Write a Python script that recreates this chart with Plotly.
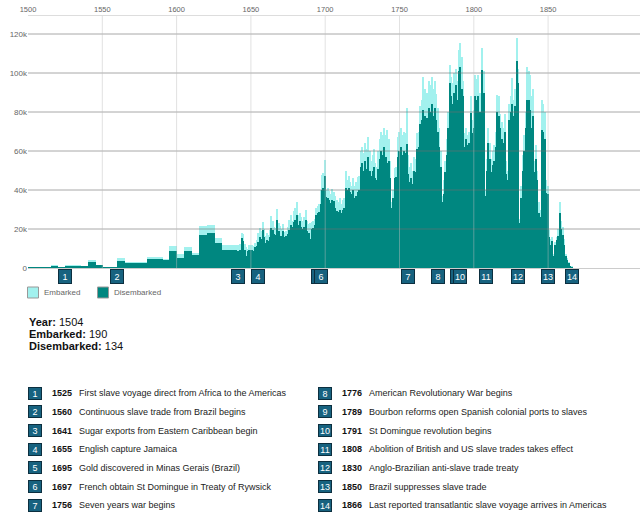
import plotly.graph_objects as go

# yearly estimates, by decade
years = list(range(1501, 1867))

embarked = (
    [190, 190, 190, 190, 190, 310, 310, 310, 310, 310]
    + [390, 390, 390, 390, 390, 1500, 1500, 1500, 1500, 1500]
    + [300, 300, 300, 300, 300, 1650, 1650, 1650, 1650, 1650]
    + [1650, 1650, 1650, 1650, 1650, 800, 800, 800, 800, 800]
    + [3900, 3900, 3900, 3900, 3900, 1700, 1700, 1700, 1700, 1700]
    + [300, 300, 300, 300, 300, 400, 400, 400, 400, 400]
    + [5100, 5100, 5100, 5100, 5100, 3300, 3300, 3300, 3300, 3300]
    + [3300, 3300, 3300, 3300, 3300, 3300, 3300, 3300, 3300, 3300]
    + [5500, 5500, 5500, 5500, 5500, 5500, 5500, 5500, 5500, 5500]
    + [4600, 4600, 4600, 4600, 4600, 11400, 11400, 11400, 11400, 11400]
    + [7200, 7200, 7200, 7200, 7200, 11000, 11000, 11000, 11000, 11000]
    + [7700, 7700, 7700, 7700, 7700, 21300, 21300, 21300, 21300, 21300]
    + [22000, 22000, 22000, 22000, 22000, 15600, 15600, 15600, 15600, 15600]
    + [12000, 12000, 12000, 12000, 12000, 12000, 12000, 12000, 12000, 12000]
    + [11800, 12000, 12200, 18000, 17500, 12500, 11000, 10000, 12000, 12000]
    + [12000, 11500, 13000, 14500, 18000, 20500, 19000, 23700, 20000, 16500]
    + [18000, 17000, 19500, 26500, 24000, 21000, 20500, 30400, 23000, 21500]
    + [20000, 22500, 18500, 19000, 21000, 24800, 27000, 24000, 29000, 31000]
    + [34000, 27000, 28000, 26000, 24000, 26000, 29500, 24000, 22600, 23000]
    + [23500, 24000, 25000, 31000, 31600, 33000, 40000, 47800, 48500, 55500]
    + [40000, 41000, 39500, 38000, 40500, 39000, 37000, 35000, 34000, 36000]
    + [33000, 35000, 36000, 49500, 45000, 47000, 44000, 42000, 46000, 42000]
    + [44000, 46500, 47000, 60000, 62000, 59000, 64000, 61000, 67000, 60000]
    + [55000, 58000, 61000, 54000, 52000, 60000, 66000, 70000, 68000, 72000]
    + [68000, 71000, 66000, 55000, 33600, 40000, 51500, 52000, 67000, 70000]
    + [72000, 68000, 70000, 69000, 82000, 58000, 52000, 54000, 50000, 57000]
    + [56000, 69000, 70000, 83000, 86000, 98000, 92000, 88000, 90000, 96000]
    + [94000, 98000, 92000, 96000, 89000, 82000, 72000, 60000, 37000, 45000]
    + [55000, 66000, 80000, 104000, 98000, 95000, 100000, 102000, 96000, 112000]
    + [115500, 108000, 96000, 69000, 72000, 68000, 70000, 88000, 76000, 81000]
    + [99000, 97000, 99000, 90000, 88000, 113000, 101000, 40000, 56000, 72000]
    + [64000, 56000, 60000, 63000, 70000, 88600, 88000, 79000, 75000, 72000]
    + [79000, 55000, 50000, 84000, 88000, 97400, 86000, 92000, 118000, 102000]
    + [25000, 42000, 58000, 68000, 80000, 103000, 101000, 99000, 88000, 92000]
    + [55000, 63000, 50000, 33600, 30000, 86000, 84000, 80000, 45000, 42000]
    + [19600, 15000, 16000, 7000, 13500, 16000, 20000, 34000, 24000, 21000]
    + [15000, 7000, 5000, 3000, 1200, 600]
)

disembarked = (
    [134, 134, 134, 134, 134, 220, 220, 220, 220, 220]
    + [280, 280, 280, 280, 280, 1150, 1150, 1150, 1150, 1150]
    + [230, 230, 230, 230, 230, 1200, 1200, 1200, 1200, 1200]
    + [1200, 1200, 1200, 1200, 1200, 620, 620, 620, 620, 620]
    + [3000, 3000, 3000, 3000, 3000, 1300, 1300, 1300, 1300, 1300]
    + [230, 230, 230, 230, 230, 300, 300, 300, 300, 300]
    + [3500, 3500, 3500, 3500, 3500, 2500, 2500, 2500, 2500, 2500]
    + [2500, 2500, 2500, 2500, 2500, 2500, 2500, 2500, 2500, 2500]
    + [4400, 4400, 4400, 4400, 4400, 4400, 4400, 4400, 4400, 4400]
    + [3900, 3900, 3900, 3900, 3900, 8500, 8500, 8500, 8500, 8500]
    + [5100, 5100, 5100, 5100, 5100, 8500, 8500, 8500, 8500, 8500]
    + [6800, 6800, 6800, 6800, 6800, 17000, 17000, 17000, 17000, 17000]
    + [18000, 18000, 18000, 18000, 18000, 12800, 12800, 12800, 12800, 12800]
    + [9400, 9400, 9400, 9400, 9400, 9400, 9400, 9400, 9400, 9400]
    + [8500, 8800, 9000, 15400, 14000, 9400, 6000, 8500, 9400, 9400]
    + [9400, 8800, 11000, 11500, 13500, 16000, 15000, 19600, 16000, 13000]
    + [14500, 14000, 16000, 20500, 19600, 17500, 17000, 24800, 19000, 16500]
    + [16500, 19000, 16000, 16500, 17500, 19600, 22000, 21000, 23500, 24500]
    + [27300, 22000, 24000, 21000, 20000, 21000, 24800, 19000, 18000, 15000]
    + [20000, 20500, 22000, 27000, 28000, 28500, 33000, 40000, 41000, 47000]
    + [36500, 36000, 35000, 33500, 35000, 34500, 31000, 29000, 28500, 30000]
    + [28000, 30000, 31000, 41000, 40000, 41000, 39000, 38000, 40000, 36000]
    + [37000, 39000, 40000, 52000, 54000, 50000, 55000, 51000, 57000, 50000]
    + [47000, 50000, 52000, 46000, 45000, 51000, 56000, 60000, 58000, 62000]
    + [57000, 54000, 55000, 46000, 31000, 36000, 46000, 46500, 57000, 60000]
    + [62000, 58000, 60000, 59000, 63700, 48000, 44000, 46000, 43000, 50000]
    + [49000, 61000, 62000, 74000, 76000, 81000, 78000, 76000, 77000, 82000]
    + [80000, 84000, 78000, 82000, 76000, 70000, 62000, 52000, 34000, 38000]
    + [49000, 58000, 72000, 95000, 88000, 84000, 90000, 94000, 86000, 101000]
    + [103000, 92000, 88000, 62000, 66000, 63000, 64000, 79600, 69000, 72000]
    + [88000, 86000, 88000, 80000, 78000, 101700, 90000, 36700, 50000, 64000]
    + [56000, 49000, 53000, 55000, 62000, 80000, 78000, 72000, 66000, 64000]
    + [70000, 48000, 45000, 76000, 80000, 84000, 78000, 83000, 106000, 95000]
    + [23000, 36000, 50000, 60000, 72000, 86000, 86000, 81000, 72000, 78000]
    + [49000, 56000, 45000, 28000, 26000, 71000, 70000, 66000, 38600, 38000]
    + [16000, 12000, 14000, 6000, 12000, 14500, 16500, 28000, 20000, 17000]
    + [12000, 6000, 4000, 2500, 1000, 400]
)

event_years = [1525, 1560, 1641, 1655, 1695, 1697, 1756,
               1776, 1789, 1791, 1808, 1830, 1850, 1866]
event_texts = [
    "First slave voyage direct from Africa to the Americas",
    "Continuous slave trade from Brazil begins",
    "Sugar exports from Eastern Caribbean begin",
    "English capture Jamaica",
    "Gold discovered in Minas Gerais (Brazil)",
    "French obtain St Domingue in Treaty of Rywsick",
    "Seven years war begins",
    "American Revolutionary War begins",
    "Bourbon reforms open Spanish colonial ports to slaves",
    "St Domingue revolution begins",
    "Abolition of British and US slave trades takes effect",
    "Anglo-Brazilian anti-slave trade treaty",
    "Brazil suppresses slave trade",
    "Last reported transatlantic slave voyage arrives in Americas",
]
shown_year = 1504

x_ticks = [1500, 1550, 1600, 1650, 1700, 1750, 1800, 1850]
y_ticks = [0, 20000, 40000, 60000, 80000, 100000, 120000]

FONT = "Liberation Sans, Arial, Helvetica, sans-serif"
C_EMB = "#a2f1ee"
C_DIS = "#008780"
C_BOX = "#17627f"


# pixel -> paper helpers (plot area: x 28..640, y 16..268)
def px(x):
    return (x - 28) / 612


def py(y):
    return (268 - y) / 252


fig = go.Figure()
fig.add_trace(go.Bar(x=years, y=embarked, name="Embarked", width=1,
                     marker=dict(color=C_EMB, line=dict(width=0)),
                     showlegend=False))
fig.add_trace(go.Bar(x=years, y=disembarked, name="Disembarked", width=1,
                     marker=dict(color=C_DIS, line=dict(width=0)),
                     showlegend=False))

annotations = []
shapes = []

# grid drawn over the bars, half transparent like the original
for yv in y_ticks[1:]:
    shapes.append(dict(type="line", xref="paper", yref="y", x0=0, x1=1,
                       y0=yv, y1=yv, layer="above",
                       line=dict(color="rgba(110,110,110,0.6)", width=1)))
for xv in x_ticks[1:]:
    shapes.append(dict(type="line", xref="x", yref="paper", x0=xv, x1=xv,
                       y0=0, y1=1, layer="above",
                       line=dict(color="rgba(190,190,190,0.45)", width=1)))

# numbered event boxes under the axis
for i, yr in enumerate(event_years):
    annotations.append(dict(
        x=yr, xref="x", y=py(276), yref="paper", text=str(i + 1),
        xanchor="center", yanchor="middle",
        showarrow=False, width=12, height=13, borderpad=0,
        bgcolor=C_BOX, bordercolor="#0c2f3f", borderwidth=1,
        font=dict(color="white", size=9, family=FONT)))

# legend
for x0, col, label in [(27.5, C_EMB, "Embarked"), (97.5, C_DIS, "Disembarked")]:
    shapes.append(dict(type="rect", xref="paper", yref="paper",
                       x0=px(x0), x1=px(x0 + 11), y0=py(298), y1=py(287),
                       fillcolor=col, line=dict(color="#999", width=1)))
    annotations.append(dict(x=px(x0 + 14), y=py(292.5), xref="paper", yref="paper",
                            text=label, showarrow=False,
                            xanchor="left", yanchor="middle",
                            font=dict(size=8, color="#666", family=FONT)))

# readout for one year
idx = years.index(shown_year)
readout = [("Year:", shown_year), ("Embarked:", embarked[idx]),
           ("Disembarked:", disembarked[idx])]
for j, (lab, val) in enumerate(readout):
    annotations.append(dict(x=px(27), y=py(321.5 + j * 12.4), xref="paper", yref="paper",
                            text="<b>%s</b> %s" % (lab, val), showarrow=False,
                            xanchor="left", yanchor="middle",
                            font=dict(size=11, color="#111", family=FONT)))

# event list, two columns
for i, (yr, txt) in enumerate(zip(event_years, event_texts)):
    col, row = divmod(i, 7)
    yc = 393.3 + row * 18.67
    bx = 34.5 if col == 0 else 325
    tx = 50 if col == 0 else 340
    dx = 77 if col == 0 else 367
    annotations.append(dict(
        x=px(bx), y=py(yc), xref="paper", yref="paper", text=str(i + 1),
        xanchor="center", yanchor="middle",
        showarrow=False, width=12, height=11, borderpad=0,
        bgcolor=C_BOX, bordercolor="#0c2f3f", borderwidth=1,
        font=dict(color="white", size=9, family=FONT)))
    annotations.append(dict(x=px(tx), y=py(yc), xref="paper", yref="paper",
                            text="<b>%d</b>" % yr, showarrow=False,
                            xanchor="left", yanchor="middle",
                            font=dict(size=9, color="#111", family=FONT)))
    annotations.append(dict(x=px(dx), y=py(yc), xref="paper", yref="paper",
                            text=txt, showarrow=False,
                            xanchor="left", yanchor="middle",
                            font=dict(size=9, color="#222", family=FONT)))

fig.update_layout(
    width=640, height=517,
    margin=dict(l=28, r=0, t=16, b=249),
    plot_bgcolor="white", paper_bgcolor="white",
    barmode="overlay", bargap=0,
    font=dict(family=FONT, color="#666"),
    xaxis=dict(side="top", range=[1500, 1500 + 612 / 1.486], automargin=False,
               tickvals=x_ticks, showgrid=False,
               showline=True, linecolor="#dddddd", zeroline=False,
               ticks="", tickfont=dict(size=7.5, color="#666")),
    yaxis=dict(range=[0, 252 / 1.95 * 1000], tickvals=y_ticks, tickformat="~s",
               automargin=False, showgrid=False,
               zeroline=True, zerolinecolor="#cccccc", zerolinewidth=1,
               ticks="", tickfont=dict(size=8, color="#666")),
    annotations=annotations,
    shapes=shapes,
)

# the page's default 8px body margin would shift the whole figure
fig.write_html("out.html", config={"displayModeBar": False},
               post_script="document.body.style.margin = '0';")
